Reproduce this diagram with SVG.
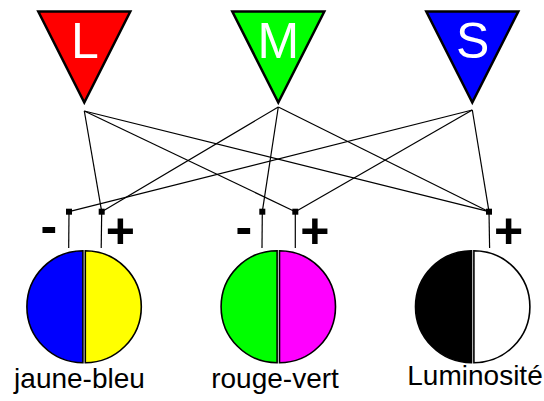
<svg xmlns="http://www.w3.org/2000/svg" width="544" height="401" viewBox="0 0 544 401">
<style>
.tri{stroke:#000;stroke-width:2.5;stroke-linejoin:miter}
.tl{font-family:"Liberation Sans",Arial,sans-serif;font-size:50px;fill:#fff;text-anchor:middle}
.sg{font-family:"Liberation Sans",Arial,sans-serif;font-size:50px;font-weight:bold;fill:#000;text-anchor:middle}
.lb{font-family:"Liberation Sans",Arial,sans-serif;font-size:28px;fill:#000;text-anchor:middle}
.half{stroke:#000;stroke-width:1.6}
.cn{stroke:#000;stroke-width:1.2;fill:none}
.jn{fill:#000}
</style>
<rect width="544" height="401" fill="#fff"/>
<g id="cone-L">
<polygon class="tri" fill="#ff0000" points="38.3,11.5 130.3,11.5 84.3,102.5"/>
<text class="tl" x="85" y="58">L</text>
</g>
<g id="cone-M">
<polygon class="tri" fill="#00ff00" points="232.3,11.5 324.3,11.5 278.3,102.5"/>
<text class="tl" x="278.3" y="58">M</text>
</g>
<g id="cone-S">
<polygon class="tri" fill="#0000ff" points="426.3,11.5 518.3,11.5 472.3,102.5"/>
<text class="tl" x="472.8" y="58">S</text>
</g>
<g id="connectors">
<line class="cn" x1="84.3" y1="111" x2="101.7" y2="211.7"/>
<line class="cn" x1="84.3" y1="111" x2="295.3" y2="211.7"/>
<line class="cn" x1="84.3" y1="111" x2="489" y2="211.7"/>
<line class="cn" x1="278.3" y1="107" x2="262.3" y2="211.7"/>
<line class="cn" x1="278.3" y1="107" x2="101.7" y2="211.7"/>
<line class="cn" x1="278.3" y1="107" x2="489" y2="211.7"/>
<line class="cn" x1="472.3" y1="110" x2="69" y2="211.7"/>
<line class="cn" x1="472.3" y1="110" x2="295.3" y2="211.7"/>
<line class="cn" x1="472.3" y1="110" x2="489" y2="211.7"/>
<line class="cn" x1="69" y1="211.7" x2="68.7" y2="248"/>
<line class="cn" x1="101.7" y1="211.7" x2="101.2" y2="248"/>
<line class="cn" x1="262.3" y1="211.7" x2="262" y2="248"/>
<line class="cn" x1="295.3" y1="211.7" x2="295.3" y2="248"/>
<line class="cn" x1="489" y1="211.7" x2="489.6" y2="248"/>
<rect class="jn" x="66" y="208.7" width="6" height="6"/>
<rect class="jn" x="98.7" y="208.7" width="6" height="6"/>
<rect class="jn" x="259.3" y="208.7" width="6" height="6"/>
<rect class="jn" x="292.3" y="208.7" width="6" height="6"/>
<rect class="jn" x="486" y="208.7" width="6" height="6"/>
</g>
<g id="jaune-bleu">
<path class="half" fill="#0000ff" d="M82.9,250.7 A56,56 0 0 0 82.9,362.7 Z"/>
<path class="half" fill="#ffff00" d="M85.3,250.7 A56,56 0 0 1 85.3,362.7 Z"/>
<text class="sg" x="48.8" y="243">-</text>
<text class="sg" x="120.3" y="247.5">+</text>
<text class="lb" x="79.5" y="388">jaune-bleu</text>
</g>
<g id="rouge-vert">
<path class="half" fill="#00ff00" d="M277.1,250.7 A56,56 0 0 0 277.1,362.7 Z"/>
<path class="half" fill="#ff00ff" d="M279.5,250.7 A56,56 0 0 1 279.5,362.7 Z"/>
<text class="sg" x="243.8" y="243.5">-</text>
<text class="sg" x="314.8" y="247.5">+</text>
<text class="lb" x="275" y="388">rouge-vert</text>
</g>
<g id="luminosite">
<path class="half" fill="#000000" d="M471.5,250.7 A56,56 0 0 0 471.5,362.7 Z"/>
<path class="half" fill="#ffffff" d="M473.9,250.7 A56,56 0 0 1 473.9,362.7 Z"/>
<text class="sg" x="508.5" y="247.5">+</text>
<text class="lb" x="475" y="384.5">Luminosité</text>
</g>
</svg>
